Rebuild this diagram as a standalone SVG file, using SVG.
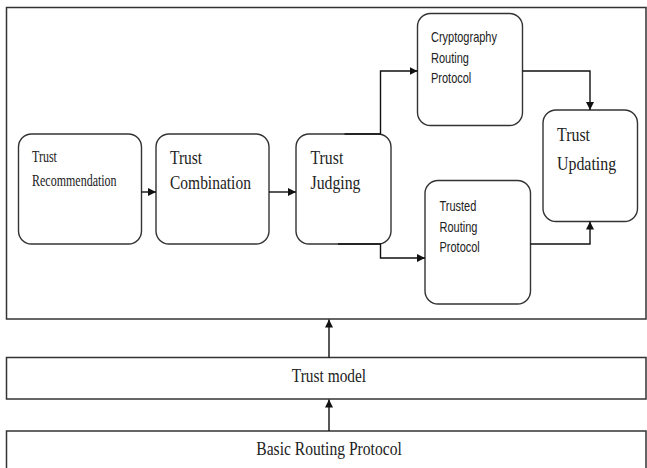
<svg xmlns="http://www.w3.org/2000/svg" width="647" height="468" viewBox="0 0 647 468">
<style>
.box{fill:#fff;stroke:#333;stroke-width:1.4}
.lay{fill:#fff;stroke:#333;stroke-width:1.5}
.con{fill:none;stroke:#111;stroke-width:1.4}
.serif{font-family:"Liberation Serif","Times New Roman",serif;fill:#222}
.sans{font-family:"Liberation Sans",Arial,sans-serif;fill:#222}
</style>
<defs>
<marker id="ah" markerUnits="userSpaceOnUse" markerWidth="9" markerHeight="8" refX="8" refY="4" orient="auto">
<path d="M0,0 L8,4 L0,8 z" fill="#111"/>
</marker>
</defs>
<rect width="647" height="468" fill="#fff"/>
<g id="outer"><rect class="lay" x="6.5" y="7.5" width="639.5" height="311.5"/></g>
<g id="trust-model"><rect class="lay" x="6.5" y="357.5" width="639.5" height="41.5"/>
<text class="serif" font-size="15.4" text-anchor="middle" transform="translate(329,382) scale(1,1.17)">Trust model</text></g>
<g id="basic"><rect class="lay" x="6.5" y="431" width="639.5" height="45"/>
<text class="serif" font-size="15.6" text-anchor="middle" transform="translate(329,455) scale(1,1.17)">Basic Routing Protocol</text></g>
<g id="rec"><rect class="box" x="18.5" y="134" width="123" height="110" rx="13"/>
<text class="serif" font-size="12" transform="translate(32,162) scale(1,1.35)"><tspan x="0" y="0">Trust</tspan><tspan x="0" y="17.8">Recommendation</tspan></text></g>
<g id="comb"><rect class="box" x="156" y="134" width="113" height="110" rx="13"/>
<text class="serif" font-size="15.5" transform="translate(170,164) scale(1,1.2)"><tspan x="0" y="0">Trust</tspan><tspan x="0" y="20.8">Combination</tspan></text></g>
<g id="judge"><rect class="box" x="296" y="134" width="95" height="110" rx="13"/>
<text class="serif" font-size="15.8" transform="translate(310.5,164) scale(1,1.2)"><tspan x="0" y="0">Trust</tspan><tspan x="0" y="20.8">Judging</tspan></text></g>
<g id="crypto"><rect class="box" x="417.5" y="13.5" width="105" height="112" rx="13"/>
<text class="sans" font-size="11" transform="translate(431,42) scale(1,1.25)"><tspan x="0" y="0">Cryptography</tspan><tspan x="0" y="16.8">Routing</tspan><tspan x="0" y="33">Protocol</tspan></text></g>
<g id="trusted"><rect class="box" x="425" y="180.5" width="105.5" height="123.5" rx="13"/>
<text class="sans" font-size="11" transform="translate(439.5,211) scale(1,1.25)"><tspan x="0" y="0">Trusted</tspan><tspan x="0" y="16.8">Routing</tspan><tspan x="0" y="33">Protocol</tspan></text></g>
<g id="update"><rect class="box" x="543" y="110" width="94.5" height="111.5" rx="13"/>
<text class="serif" font-size="15.9" transform="translate(557,141) scale(1,1.2)"><tspan x="0" y="0">Trust</tspan><tspan x="0" y="24">Updating</tspan></text></g>
<g id="connectors">
<path class="con" d="M141.5,192 H156" marker-end="url(#ah)"/>
<path class="con" d="M269,192 H296" marker-end="url(#ah)"/>
<path class="con" d="M344.5,134 H380.5 V71 H417.5" marker-end="url(#ah)"/>
<path class="con" d="M338,244 H380.5 V258 H425" marker-end="url(#ah)"/>
<path class="con" d="M522.5,71 H590 V110" marker-end="url(#ah)"/>
<path class="con" d="M530.5,244 H590 V221.5" marker-end="url(#ah)"/>
<path class="con" d="M329,357.5 V319.5" marker-end="url(#ah)"/>
<path class="con" d="M329,431 V399.5" marker-end="url(#ah)"/>
</g>
</svg>
